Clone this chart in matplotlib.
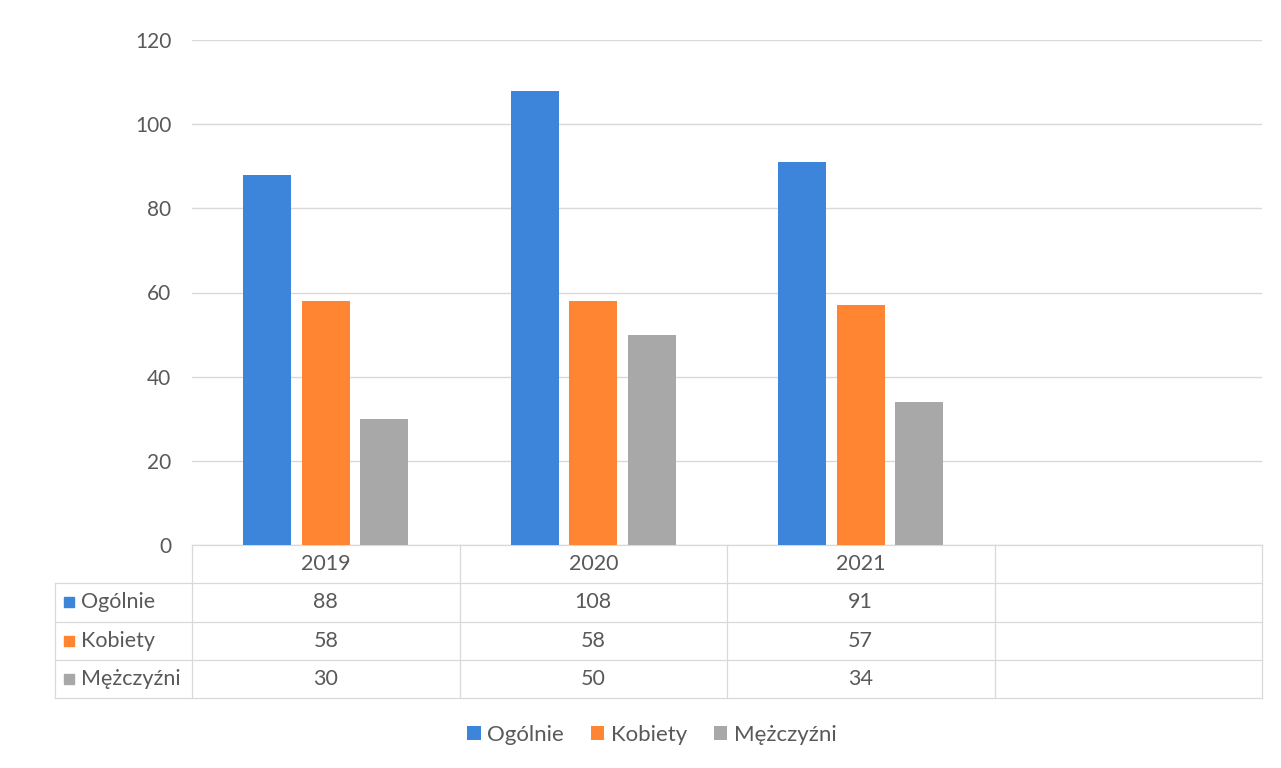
import matplotlib
matplotlib.use("Agg")
import matplotlib.pyplot as plt
from matplotlib.patches import Rectangle
import numpy as np

plt.rcParams['font.family'] = ['Lato', 'DejaVu Sans']

categories = ["2019", "2020", "2021", ""]
series_names = ["Ogólnie", "Kobiety", "Mężczyźni"]
ogolnie = [88, 108, 91]
kobiety = [58, 58, 57]
mezczyzni = [30, 50, 34]
series_values = [ogolnie, kobiety, mezczyzni]
colors = ["#3D85DB", "#FF8533", "#A8A8A8"]
yticks = [0, 20, 40, 60, 80, 100, 120]

text_color = "#595959"
line_color = "#D9D9D9"
fs_tick = 15
fs_table = 15.5
fs_leg = 16

fig = plt.figure(figsize=(12.81, 7.68), dpi=100)
W, H = 1281, 768
left, right, top, bottom = 192, 1262, 40, 545
ax = fig.add_axes([left / W, 1 - bottom / H, (right - left) / W, (bottom - top) / H])

n_cat = len(categories)
bar_w = 0.18
offsets = [-0.219, 0.0, 0.219]
for vals, off, col, name in zip(series_values, offsets, colors, series_names):
    x = np.arange(len(vals)) + off
    ax.bar(x, vals, width=bar_w, color=col, label=name, zorder=3)

ax.set_xlim(-0.5, n_cat - 0.5)
ax.set_ylim(0, 120)
ax.set_yticks(yticks)
ax.set_yticklabels([str(t) for t in yticks], fontsize=fs_tick, color=text_color)
ax.tick_params(axis='y', length=0, pad=15)
ax.set_xticks([])
for s in ax.spines.values():
    s.set_visible(False)
ax.grid(axis='y', color=line_color, linewidth=1, zorder=0)

# Data table below the axes
row_h = 38.3 / (bottom - top)
n_rows = 1 + len(series_names)
tab_left = (55 - left) / (right - left)
trans = ax.transAxes
lw = 0.9
for r in range(n_rows + 1):
    y = -r * row_h
    x0 = 0.0 if r == 0 else tab_left
    ax.plot([x0, 1.0], [y, y], transform=trans, color=line_color, lw=lw, clip_on=False)
for c in range(n_cat + 1):
    x = c / n_cat
    ax.plot([x, x], [0, -n_rows * row_h], transform=trans, color=line_color, lw=lw, clip_on=False)
ax.plot([tab_left, tab_left], [-row_h, -n_rows * row_h], transform=trans,
        color=line_color, lw=lw, clip_on=False)

for c, cat in enumerate(categories):
    ax.text((c + 0.5) / n_cat, -0.5 * row_h, cat, transform=trans, ha='center', va='center',
            fontsize=fs_table, color=text_color)
sq_w = 10 / (right - left)
sq_h = 10 / (bottom - top)
for r, (name, vals, col) in enumerate(zip(series_names, series_values, colors)):
    yc = -(r + 1.5) * row_h
    x_sq = (64 - left) / (right - left)
    ax.add_patch(Rectangle((x_sq, yc - sq_h / 2), sq_w, sq_h, transform=trans,
                           color=col, clip_on=False))
    ax.text((81 - left) / (right - left), yc, name, transform=trans, ha='left', va='center',
            fontsize=fs_table, color=text_color)
    for c, v in enumerate(vals):
        ax.text((c + 0.5) / n_cat, yc, str(v), transform=trans, ha='center', va='center',
                fontsize=fs_table, color=text_color)

handles, labels = ax.get_legend_handles_labels()
fig.legend(handles, labels, loc='center', bbox_to_anchor=(652 / W, 1 - 735 / H), ncol=3,
           frameon=False, fontsize=fs_leg, labelcolor=text_color, handlelength=0.6,
           handleheight=0.6, handletextpad=0.3, columnspacing=1.2)

fig.savefig("out.png", dpi=100, facecolor="white")
